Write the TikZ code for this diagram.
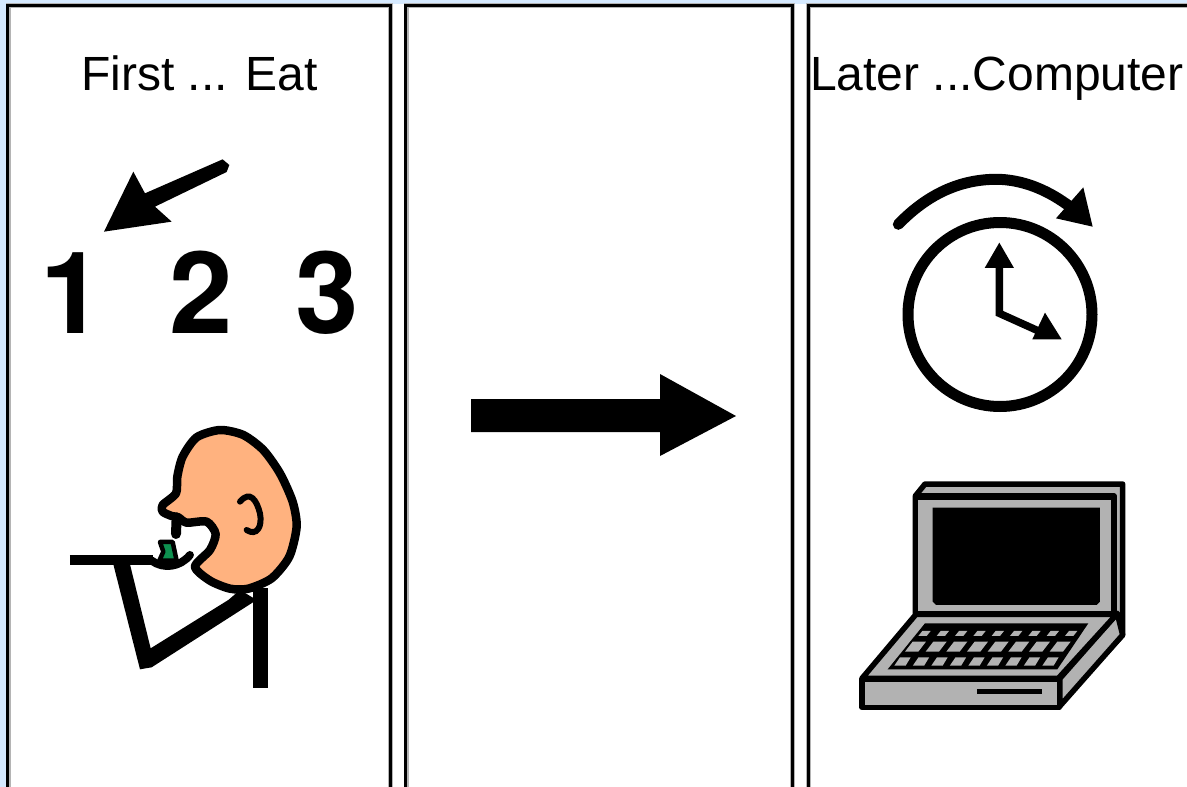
\documentclass[tikz,border=0pt]{standalone}
\usepackage{fontspec}
\setmainfont{Liberation Sans}
\newfontfamily\digitfont{TeX Gyre Heros}
\definecolor{pageblue}{HTML}{D6EAFF}
\definecolor{skin}{HTML}{FFB27F}
\definecolor{pea}{HTML}{0E9150}
\definecolor{lapgrey}{HTML}{B2B2B2}
\definecolor{edge}{HTML}{B4B4B4}
\tikzset{
  panelline/.style={line width=3pt,draw=black},
  panelshade/.style={line width=5.5pt,draw=edge},
  caption/.style={inner sep=0pt,anchor=base,font=\fontsize{48}{48}\selectfont},
  digit/.style={inner sep=0pt,anchor=base,font=\digitfont\fontsize{114}{114}\selectfont\bfseries},
  zoomA/.style={shift={(40,410)},x=0.3333pt,y=-0.3333pt},
  zoomB/.style={shift={(840,470)},x=0.3333pt,y=-0.3333pt},
  zoomC/.style={shift={(870,160)},x=0.3333pt,y=-0.3333pt},
  zoomD/.style={shift={(30,150)},x=0.3333pt,y=-0.3333pt},
  lap/.style={fill=lapgrey,draw=black,line width=5.5pt,line join=round},
  keycap/.style={fill=lapgrey,draw=none},
}
\begin{document}
\begin{tikzpicture}[x=1pt,y=-1pt]
\useasboundingbox (0,0) rectangle (1187,787);
\clip (0,0) rectangle (1187,787);
\fill[white] (0,0) rectangle (1187,787);
\fill[pageblue] (0,0) rectangle (1187,4);
\fill[pageblue] (0,0) rectangle (6,787);
% panels
\foreach \l/\r in {7.5/390.5,405.5/792.5}{
  \draw[panelshade] (\l+0.8,787) -- (\l+0.8,5.5) -- (\r,5.5) -- (\r,787);
  \draw[panelline] (\l,787) -- (\l,5.5) -- (\r,5.5) -- (\r,787);
}
\draw[panelshade] (808.3,787) -- (808.3,5.5) -- (1187,5.5);
\draw[panelline] (808,787) -- (808,5.5) -- (1187,5.5);
% captions
\node[caption] (first) at (199.5,90) {First ... Eat};
\node[caption,anchor=base west] (later) at (810,90) {Later ...Computer};
% numbers
\node[digit] (one) at (72.5,333) {1};
\node[digit] (two) at (201,333) {2};
\node[digit] (three) at (327.5,333) {3};
% little arrow
\begin{scope}[zoomD]
  \fill (310,65) -- (222,245) -- (425,215) -- (375,170) -- (590,66) -- (598,45) -- (578,28) -- (345,130) -- cycle;
\end{scope}
% eater
\begin{scope}[zoomA]
  \fill (640,535) rectangle (685,835);
  \fill (218,455) -- (268,455) -- (332,715) -- (565,570) -- (600,540) -- (650,570) -- (335,772) -- (300,778) -- cycle;
  \draw[line width=10pt] (90,450) -- (340,450);
  \draw[line width=8pt,line cap=round] (335,452) .. controls (370,478) and (420,472) .. (450,435);
  \draw[line width=4.5pt,fill=pea,line join=round] (360,396) -- (398,396) -- (410,452) -- (358,452) -- (370,425) -- cycle;
  \draw[line width=8.5pt,fill=skin,line join=round]
    plot[smooth cycle,tension=0.45] coordinates {(415,322) (440,338) (500,335) (527,372) (510,420) (465,470) (510,512) (570,536) (625,536) (695,505) (748,440) (770,350) (758,275) (720,190) (670,120) (610,75) (540,60) (470,82) (428,140) (412,200) (408,250) (368,285) (368,305) (395,318)};
  \draw[line width=10pt,line cap=round,line join=round] (410,322) -- (408,372);
  \draw[line width=6pt,line cap=round] (600,275) .. controls (630,240) and (650,270) .. (660,310) .. controls (668,350) and (650,380) .. (620,360);
\end{scope}
% big arrow
\fill (471,399) -- (660,399) -- (660,374) -- (736,416) -- (660,456) -- (660,432) -- (471,432) -- cycle;
% clock
\draw[line width=11pt] (1000,314.5) circle[radius=92];
\begin{scope}[zoomC]
  \draw[line width=11pt,line cap=round] (85,193) .. controls (170,105) and (270,55) .. (390,58) .. controls (470,62) and (540,95) .. (600,140);
  \fill (640,82) -- (668,200) -- (558,175) -- cycle;
  \draw[line width=7.5pt,line join=miter] (388,315) -- (388,460) -- (510,515);
  \fill (388,248) -- (432,324) -- (344,324) -- cycle;
  \fill (525,458) -- (575,538) -- (487,538) -- cycle;
\end{scope}
% laptop
\begin{scope}[zoomB]
  \path[lap] (226,78) -- (255,42) -- (848,42) -- (848,495) -- (660,700) -- (660,625) -- (226,430) -- cycle;
  \path[lap] (226,78) -- (822,78) -- (822,430) -- (226,430) -- cycle;
  \fill (226,68) rectangle (822,90);
  \fill (278,113) -- (780,113) -- (780,395) -- (770,405) -- (288,405) -- (278,395) -- cycle;
  \path[lap] (660,625) -- (832,430) -- (848,495) -- (660,708) -- cycle;
  \path[lap] (228,433) -- (830,433) -- (655,625) -- (66,625) -- cycle;
  \fill (255,460) -- (745,460) -- (652,598) -- (143,598) -- cycle;
  \foreach \i in {0,...,8}
    \fill[keycap] ({247+\i*55},483) -- ({272+\i*55},483) -- ({260+\i*55},498) -- ({235+\i*55},498) -- cycle;
  \foreach \i in {0,...,7}
    \fill[keycap] ({218+\i*62},515) -- ({258+\i*62},515) -- ({235+\i*62},545) -- ({195+\i*62},545) -- cycle;
  \foreach \i in {0,...,8}
    \fill[keycap] ({180+\i*55.5},562) -- ({212+\i*55.5},562) -- ({197+\i*55.5},587) -- ({163+\i*55.5},587) -- cycle;
  \path[lap] (66,627) rectangle (658,712);
  \fill (412,656) rectangle (607,672);
\end{scope}
\end{tikzpicture}
\end{document}
